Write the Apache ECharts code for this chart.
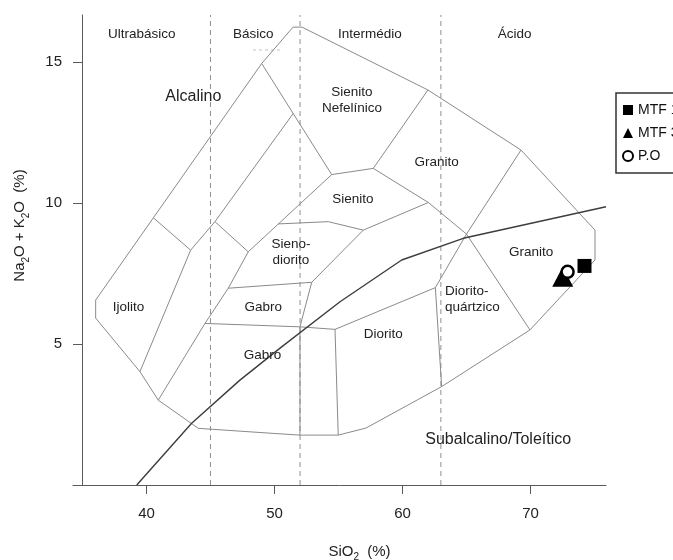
<!DOCTYPE html>
<html>
<head>
<meta charset="utf-8">
<script src="https://cdn.jsdelivr.net/npm/echarts@6/dist/echarts.min.js"></script>
<style>
  html, body { margin: 0; padding: 0; background: #fff; }
  #chart { width: 673px; height: 560px; }
</style>
</head>
<body>
<div id="chart"></div>
<script>
// TAS classification diagram for plutonic rocks: SiO2 (%) vs Na2O + K2O (%)

const xTicks = [40, 50, 60, 70];
const yTicks = [5, 10, 15];
const xRange = [34.26, 75.9];
const yRange = [0, 16.67];

// silica classes: dashed dividers and class names
const silicaLimits = [45, 52, 63];
const silicaClasses = [
  ['Ultrabásico', 39.63, 15.99],
  ['Básico', 48.34, 15.99],
  ['Intermédio', 57.45, 15.99],
  ['Ácido', 68.77, 15.99]
];
const basicoUnderline = [[48.32, 15.43], [50.43, 15.43]];

// outer envelope of the classification fields
const outerBoundary = [
  [52.15, 16.24], [61.99, 14.01], [69.26, 11.88], [75.04, 9.04], [75.04, 7.98],
  [69.96, 5.50], [63.06, 3.49], [57.15, 2.02], [54.98, 1.77], [51.99, 1.77],
  [49.90, 1.83], [44.05, 2.01], [40.92, 3.01], [39.49, 4.02], [36.03, 5.92],
  [36.03, 6.56], [49.00, 14.95], [51.45, 16.24], [52.15, 16.24]
];

// internal field boundaries
const foidLineUpper = [[49.00, 14.95], [54.47, 11.01]];
const foidLineMiddle = [[51.47, 13.18], [45.35, 9.34], [43.45, 8.33], [39.49, 4.02]];
const ijolitoTop = [[40.53, 9.48], [43.45, 8.33]];
const foidTie = [[45.35, 9.34], [47.95, 8.27]];
const foidLineLower = [[54.47, 11.01], [47.95, 8.27], [46.39, 6.98], [44.57, 5.73], [40.92, 3.01]];
const nefelinicoBase = [[54.47, 11.01], [57.72, 11.23], [61.99, 14.01]];
const sienitoGranito = [[57.72, 11.23], [62.02, 10.02], [65.00, 8.90], [69.96, 5.50]];
const granitoUpper = [[65.00, 8.90], [69.26, 11.88]];
const quartzDioriteLeft = [[65.00, 8.90], [62.57, 7.00], [63.06, 3.49]];
const dioritoTop = [[62.57, 7.00], [54.73, 5.52], [54.98, 1.77]];
const gabroBase = [[44.57, 5.73], [51.99, 5.61], [54.73, 5.52]];
const gabroRight = [[52.91, 7.19], [51.99, 5.61], [51.99, 1.77]];
const monzoniteTop = [[46.39, 6.98], [52.91, 7.19], [56.94, 9.04], [62.02, 10.02]];
const sienodioritoTop = [[50.30, 9.26], [54.20, 9.34], [56.94, 9.04]];

const fieldLines = [
  outerBoundary, foidLineUpper, foidLineMiddle, ijolitoTop, foidTie, foidLineLower,
  nefelinicoBase, sienitoGranito, granitoUpper, quartzDioriteLeft, dioritoTop,
  gabroBase, gabroRight, monzoniteTop, sienodioritoTop
];

// alkaline / subalkaline divide
const alkalineDivide = [
  [39.24, 0.0], [43.53, 2.19], [47.30, 3.72], [50.56, 4.90], [55.12, 6.50],
  [59.94, 7.98], [64.75, 8.75], [75.90, 9.87]
];

// field names
const fieldLabels = [
  ['Alcalino', 43.66, 13.77],
  ['Sienito\nNefelínico', 56.05, 13.65],
  ['Granito', 62.67, 11.44],
  ['Sienito', 56.12, 10.13],
  ['Sieno-\ndiorito', 51.29, 8.26],
  ['Gabro', 49.12, 6.32],
  ['Gabro', 49.06, 4.61],
  ['Ijolito', 38.59, 6.32],
  ['Diorito', 58.50, 5.34],
  ['Diorito-\nquártzico', 63.32, 6.59],
  ['Granito', 70.05, 8.24],
  ['Subalcalino/Toleítico', 67.48, 1.60]
];
const largeLabels = ['Alcalino', 'Subalcalino/Toleítico'];
const leftAlignedLabels = ['Diorito-\nquártzico'];

// samples
const mtf1 = [[74.22, 7.77]];
const mtf3 = [[72.52, 7.39]];
const po = [[72.90, 7.56]];

const FONT = '"Liberation Sans", Arial, Helvetica, sans-serif';
const TEXT = '#222';

const chart = echarts.init(document.getElementById('chart'), null, { renderer: 'canvas' });

const series = [];

fieldLines.forEach(function (pts) {
  series.push({
    type: 'line', data: pts, symbol: 'none', silent: true, animation: false,
    lineStyle: { color: '#8a8a8a', width: 1 }, z: 2
  });
});

silicaLimits.forEach(function (x) {
  series.push({
    type: 'line', data: [[x, yRange[0]], [x, yRange[1]]], symbol: 'none', silent: true,
    animation: false, lineStyle: { color: '#8f8f8f', width: 1, type: [5, 4] }, z: 1
  });
});

series.push({
  type: 'line', data: basicoUnderline, symbol: 'none', silent: true, animation: false,
  lineStyle: { color: '#c4c4c4', width: 1, type: [3, 3] }, z: 1
});

series.push({
  type: 'line', data: alkalineDivide, symbol: 'none', silent: true, animation: false,
  lineStyle: { color: '#3d3d3d', width: 1.4 }, z: 3
});

series.push({
  name: 'MTF 1', type: 'scatter', data: mtf1, symbol: 'rect', symbolSize: 14,
  itemStyle: { color: '#000', opacity: 1 }, z: 5, silent: true
});
series.push({
  name: 'MTF 3', type: 'scatter', data: mtf3, symbol: 'triangle', symbolSize: [21, 20],
  itemStyle: { color: '#000', opacity: 1 }, z: 5, silent: true
});
series.push({
  name: 'P.O', type: 'scatter', data: po, symbol: 'circle', symbolSize: 12,
  itemStyle: { color: '#fff', borderColor: '#000', borderWidth: 2.5, opacity: 1 }, z: 6, silent: true
});

// text labels for silica classes and fields
const labelData = silicaClasses.concat(fieldLabels).map(function (d) {
  const big = largeLabels.indexOf(d[0]) >= 0;
  const left = leftAlignedLabels.indexOf(d[0]) >= 0;
  return {
    name: d[0], value: [d[1], d[2]],
    label: {
      fontSize: big ? 16 : 13.5,
      align: left ? 'left' : 'center',
      lineHeight: 15.5
    }
  };
});
series.push({
  type: 'scatter', data: labelData, symbolSize: 0, silent: true, z: 7,
  itemStyle: { opacity: 1 },
  label: {
    show: true, position: 'inside', formatter: '{b}', color: TEXT, opacity: 1,
    fontFamily: FONT, verticalAlign: 'middle'
  }
});

const axisColor = '#5a5a5a';

chart.setOption({
  animation: false,
  backgroundColor: '#fff',
  textStyle: { fontFamily: FONT },
  grid: { left: 73, right: 67, top: 15, bottom: 75, containLabel: false },
  xAxis: {
    type: 'value', min: xRange[0], max: xRange[1],
    axisLine: { show: true, lineStyle: { color: axisColor, width: 1 } },
    axisTick: { show: true, length: 9, customValues: xTicks, lineStyle: { color: axisColor } },
    axisLabel: { customValues: xTicks, fontSize: 15, color: TEXT, margin: 21, fontFamily: FONT },
    splitLine: { show: false }
  },
  yAxis: {
    type: 'value', min: yRange[0], max: yRange[1], offset: -9,
    axisLine: { show: true, lineStyle: { color: axisColor, width: 1 } },
    axisTick: { show: true, length: 9, customValues: yTicks, lineStyle: { color: axisColor } },
    axisLabel: { customValues: yTicks, fontSize: 15, color: TEXT, margin: 20, fontFamily: FONT },
    splitLine: { show: false }
  },
  legend: {
    data: ['MTF 1', 'MTF 3', 'P.O'],
    orient: 'vertical', left: 616, top: 93,
    backgroundColor: '#fff', borderColor: '#333', borderWidth: 1.5,
    padding: [10, 8, 10, 6], itemGap: 9, itemWidth: 10, itemHeight: 10, itemTextGap: 3,
    textStyle: { fontSize: 14, color: '#111', fontFamily: FONT },
    selectedMode: false
  },
  graphic: [
    {
      type: 'text', x: 20, y: 225.5, rotation: Math.PI / 2, silent: true,
      style: {
        text: '{n|Na}{s|2}{n|O + K}{s|2}{n|O  (%)}',
        align: 'center', verticalAlign: 'middle',
        rich: {
          n: { fontSize: 15, fontFamily: FONT, fill: TEXT, lineHeight: 22, verticalAlign: 'middle' },
          s: { fontSize: 10, fontFamily: FONT, fill: TEXT, lineHeight: 22, verticalAlign: 'bottom' }
        }
      }
    },
    {
      type: 'text', x: 359.5, y: 551.5, silent: true,
      style: {
        text: '{n|SiO}{s|2}{n|  (%)}',
        align: 'center', verticalAlign: 'middle',
        rich: {
          n: { fontSize: 15, fontFamily: FONT, fill: TEXT, lineHeight: 22, verticalAlign: 'middle' },
          s: { fontSize: 10, fontFamily: FONT, fill: TEXT, lineHeight: 22, verticalAlign: 'bottom' }
        }
      }
    }
  ],
  series: series
});
</script>
</body>
</html>
